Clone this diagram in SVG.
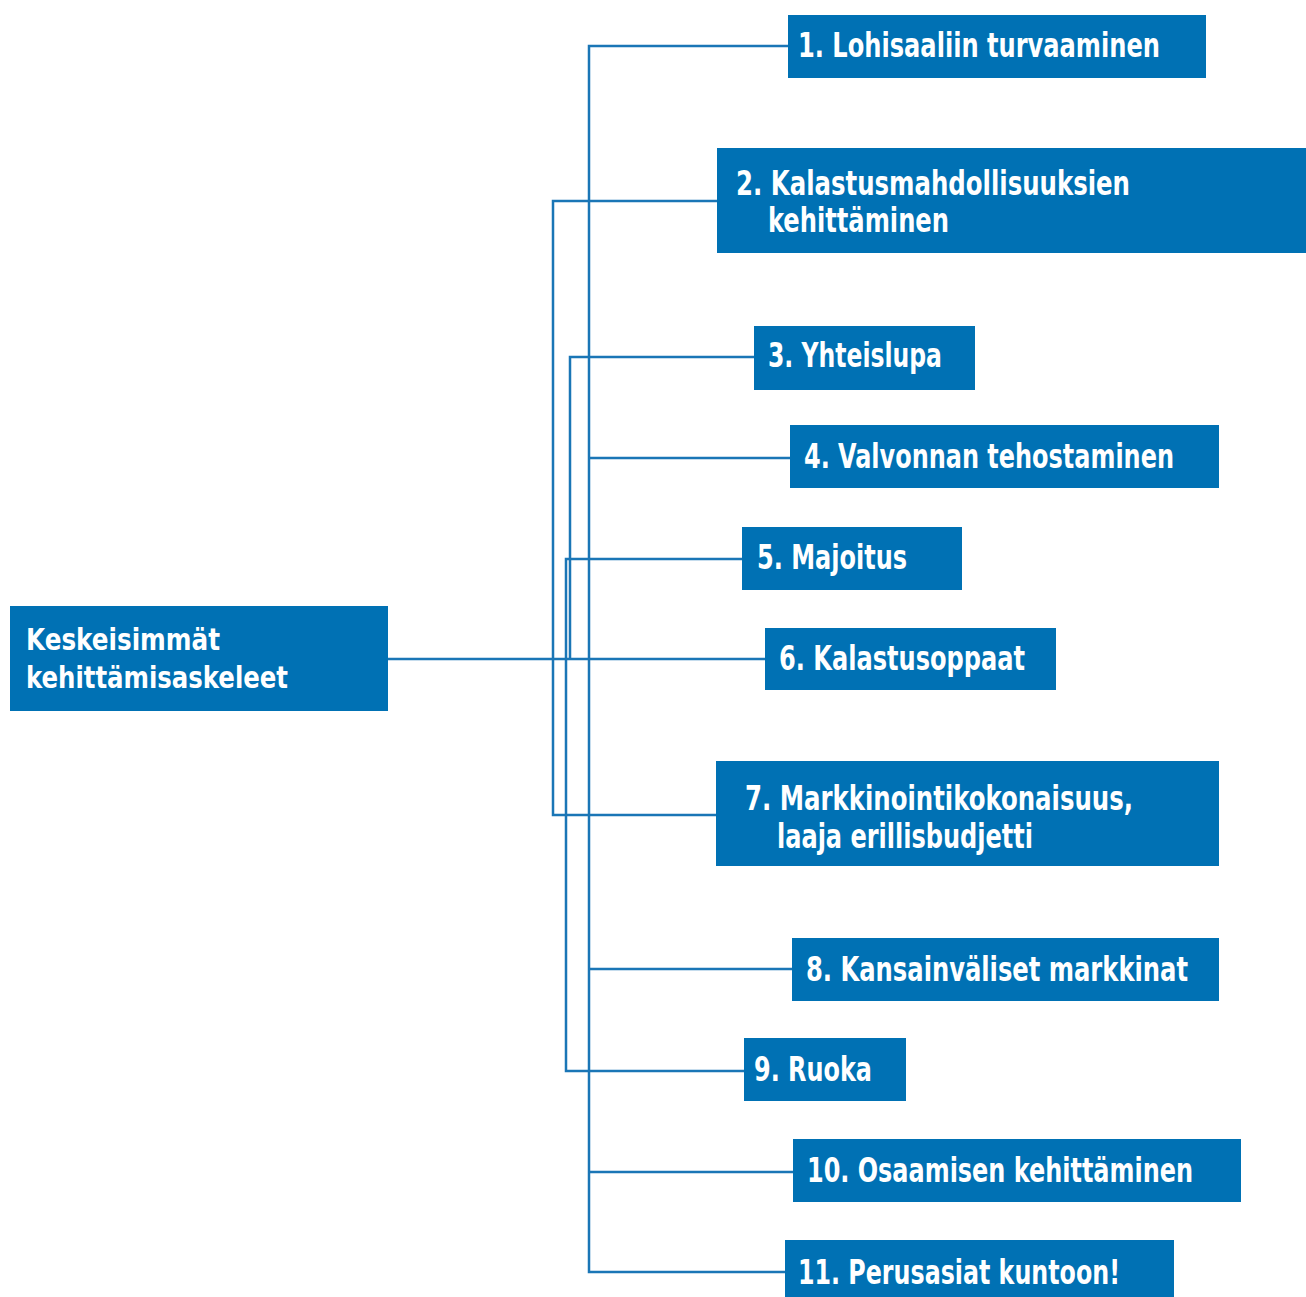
<svg xmlns="http://www.w3.org/2000/svg" width="1306" height="1297" viewBox="0 0 1306 1297">
<style>
.box{fill:#0071b4}
.t{fill:#ffffff;font-family:"Liberation Sans Narrow","DejaVu Sans Condensed","Liberation Sans",sans-serif;font-weight:bold;font-size:33px}
.tm{font-size:31px}
.c{fill:none;stroke:#1a76b6;stroke-width:2.5}
</style>
<rect width="1306" height="1297" fill="#ffffff"/>
<g id="connectors">
<polyline class="c" points="788,46 589,46 589,1272 785,1272"/>
<polyline class="c" points="717,201 553,201 553,815 717,815"/>
<polyline class="c" points="754,357 570,357 570,659"/>
<line class="c" x1="589" y1="458" x2="790" y2="458"/>
<polyline class="c" points="742,559 566,559 566,1071 744,1071"/>
<line class="c" x1="388" y1="659" x2="765" y2="659"/>
<line class="c" x1="589" y1="969" x2="792" y2="969"/>
<line class="c" x1="589" y1="1172" x2="794" y2="1172"/>
</g>
<g id="main">
<rect class="box" x="10" y="606" width="378" height="105"/>
<text class="t tm" x="26" y="650" textLength="194" lengthAdjust="spacingAndGlyphs">Keskeisimmät</text>
<text class="t tm" x="26" y="688" textLength="262" lengthAdjust="spacingAndGlyphs">kehittämisaskeleet</text>
</g>
<g id="n1">
<rect class="box" x="788" y="15" width="418" height="63"/>
<text class="t" x="798" y="57" textLength="362" lengthAdjust="spacingAndGlyphs">1. Lohisaaliin turvaaminen</text>
</g>
<g id="n2">
<rect class="box" x="717" y="148" width="589" height="105"/>
<text class="t" x="736" y="195" textLength="394" lengthAdjust="spacingAndGlyphs">2. Kalastusmahdollisuuksien</text>
<text class="t" x="768" y="232" textLength="181" lengthAdjust="spacingAndGlyphs">kehittäminen</text>
</g>
<g id="n3">
<rect class="box" x="754" y="326" width="221" height="64"/>
<text class="t" x="768" y="367" textLength="174" lengthAdjust="spacingAndGlyphs">3. Yhteislupa</text>
</g>
<g id="n4">
<rect class="box" x="790" y="425" width="429" height="63"/>
<text class="t" x="804" y="468" textLength="370" lengthAdjust="spacingAndGlyphs">4. Valvonnan tehostaminen</text>
</g>
<g id="n5">
<rect class="box" x="742" y="527" width="220" height="63"/>
<text class="t" x="757" y="569" textLength="150" lengthAdjust="spacingAndGlyphs">5. Majoitus</text>
</g>
<g id="n6">
<rect class="box" x="765" y="628" width="291" height="62"/>
<text class="t" x="779" y="670" textLength="246" lengthAdjust="spacingAndGlyphs">6. Kalastusoppaat</text>
</g>
<g id="n7">
<rect class="box" x="716" y="761" width="503" height="105"/>
<text class="t" x="745" y="810" textLength="388" lengthAdjust="spacingAndGlyphs">7. Markkinointikokonaisuus,</text>
<text class="t" x="777" y="848" textLength="256" lengthAdjust="spacingAndGlyphs">laaja erillisbudjetti</text>
</g>
<g id="n8">
<rect class="box" x="792" y="938" width="427" height="63"/>
<text class="t" x="806" y="981" textLength="382" lengthAdjust="spacingAndGlyphs">8. Kansainväliset markkinat</text>
</g>
<g id="n9">
<rect class="box" x="744" y="1038" width="162" height="63"/>
<text class="t" x="754" y="1081" textLength="118" lengthAdjust="spacingAndGlyphs">9. Ruoka</text>
</g>
<g id="n10">
<rect class="box" x="793" y="1139" width="448" height="63"/>
<text class="t" x="807" y="1182" textLength="386" lengthAdjust="spacingAndGlyphs">10. Osaamisen kehittäminen</text>
</g>
<g id="n11">
<rect class="box" x="785" y="1240" width="389" height="57"/>
<text class="t" x="798" y="1284" textLength="322" lengthAdjust="spacingAndGlyphs">11. Perusasiat kuntoon!</text>
</g>
</svg>
